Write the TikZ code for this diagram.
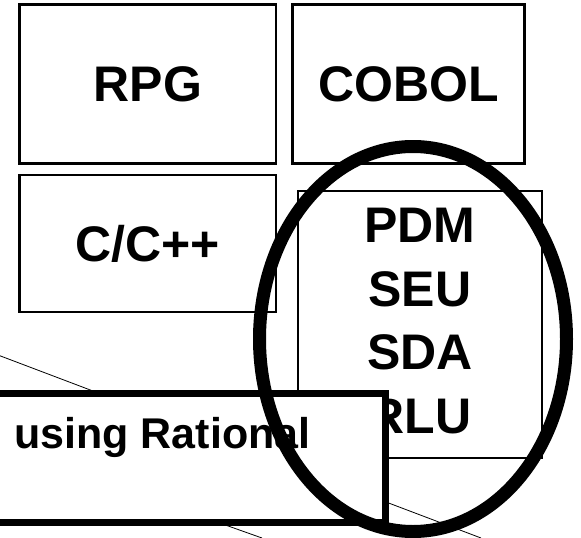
\documentclass[tikz,border=0pt]{standalone}
\usepackage{fontspec}
\setmainfont{Liberation Sans}
\usetikzlibrary{shadows}

\begin{document}
\begin{tikzpicture}[x=1pt, y=-1pt,
  langbox/.style={draw=black, line width=2.5pt, fill=white, inner sep=0pt,
    drop shadow={shadow xshift=1pt, shadow yshift=-1pt, fill=gray!70, opacity=1}},
  bigtext/.style={font=\fontsize{50}{63.5}\selectfont\bfseries, align=center},
  thinline/.style={black, line width=0.8pt}]

  % Frame of the slide.
  \useasboundingbox (0,0) rectangle (581,538);
  \clip (0,0) rectangle (581,538);

  % Thin lines in the background.
  \draw[thinline] (-10,352) -- (481,538);
  \draw[thinline] (200,516) -- (262,538);

  % Boxes in the upper rows
  \node[langbox, minimum width=256.5, minimum height=159] (rpg) at (147.75,84) {};
  \node[langbox, minimum width=232, minimum height=159] (cobol) at (408.5,84) {};
  \node[langbox, minimum width=256.5, minimum height=137] (cpp) at (147.75,243.5) {};
  \node[langbox, minimum width=244, minimum height=267] (tools) at (420,324.5) {};

  % Text in the boxes
  \node[bigtext] (rpgtext) at (rpg) {RPG};
  \node[bigtext] (coboltext) at (cobol) {COBOL};
  \node[bigtext] (cpptext) at (cpp) {C/C++};
  \node[bigtext] (toolstext) at (420,321) {PDM\\SEU\\SDA\\RLU};

  % Box at the bottom, running off the left side
  \node[draw=black, line width=7pt, fill=white, inner sep=0pt,
        minimum width=405, minimum height=129] (rational) at (182.5,458) {};
  \node[font=\fontsize{43}{51}\selectfont\bfseries, anchor=base west, inner sep=0pt]
    (rationaltext) at (14,448) {using Rational};

  % The ring around the tools
  \draw[black, line width=13pt] (413,339) ellipse (153.5 and 192.5);

\end{tikzpicture}
\end{document}
